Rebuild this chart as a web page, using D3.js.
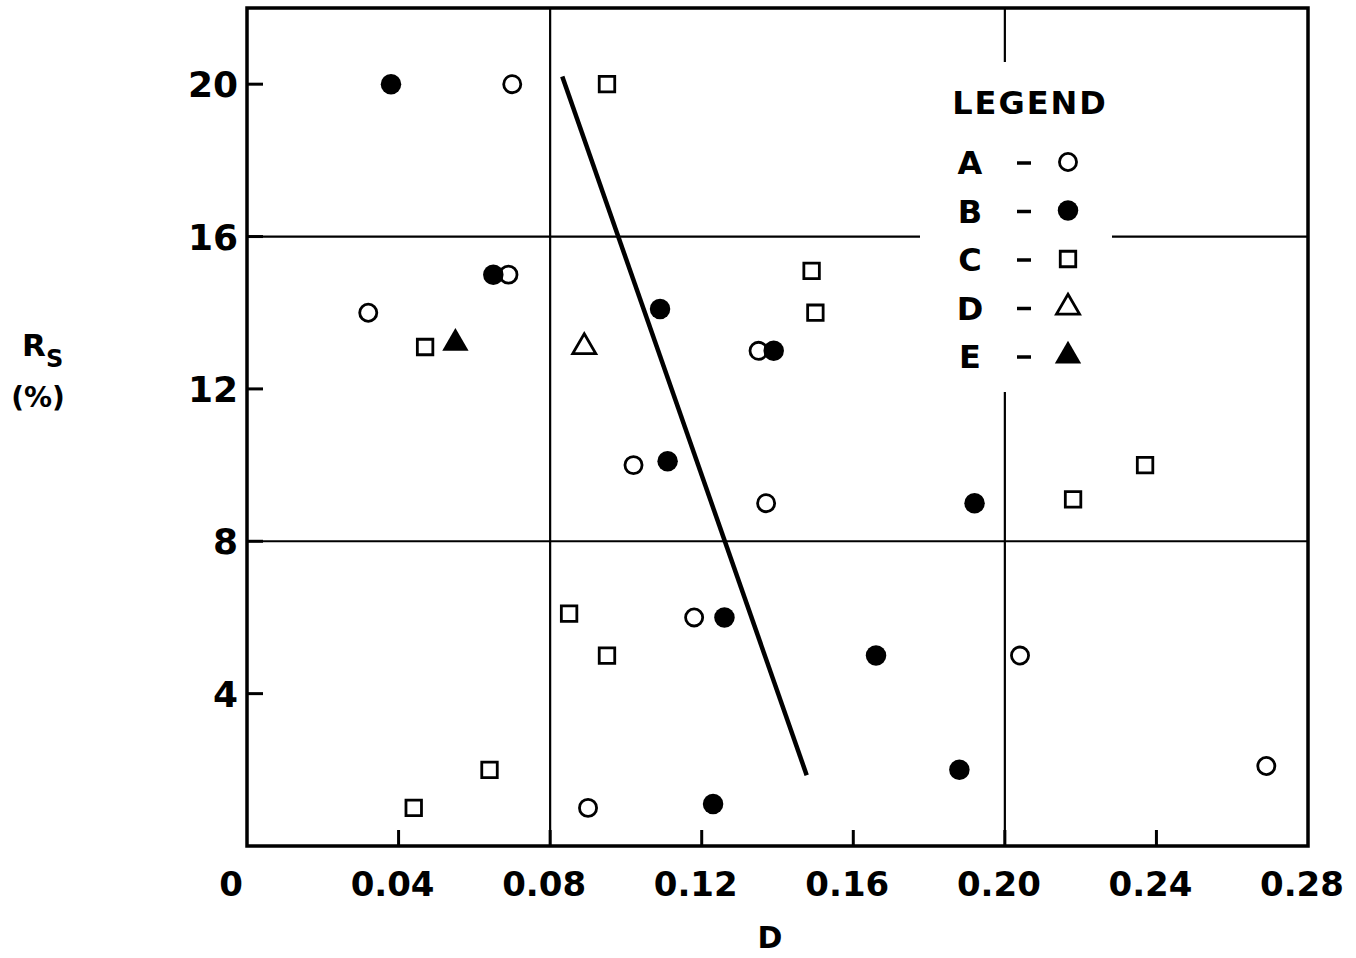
<!DOCTYPE html>
<html>
<head>
<meta charset="utf-8">
<script src="https://cdn.jsdelivr.net/npm/d3@7"></script>
<style>
body { margin: 0; background: #fff; }
text { font-family: "DejaVu Sans", sans-serif; font-weight: bold; fill: #000; }
</style>
</head>
<body>
<div id="chart"></div>
<script>
// values, one array per series
var seriesA = [[0.070, 20], [0.032, 14], [0.069, 15], [0.135, 13], [0.102, 10], [0.137, 9], [0.118, 6], [0.090, 1], [0.204, 5], [0.269, 2.1]];
var seriesB = [[0.038, 20], [0.065, 15], [0.109, 14.1], [0.139, 13], [0.111, 10.1], [0.126, 6], [0.166, 5], [0.192, 9], [0.188, 2], [0.123, 1.1]];
var seriesC = [[0.095, 20], [0.149, 15.1], [0.150, 14], [0.047, 13.1], [0.237, 10], [0.218, 9.1], [0.085, 6.1], [0.095, 5], [0.064, 2], [0.044, 1]];
var seriesD = [[0.089, 13.1]];
var seriesE = [[0.055, 13.2]];
var trendLine = [[0.0832, 20.2], [0.1477, 1.86]];

var xTicks = [0, 0.04, 0.08, 0.12, 0.16, 0.20, 0.24, 0.28];
var xTickLabels = ['0', '0.04', '0.08', '0.12', '0.16', '0.20', '0.24', '0.28'];
var yTicks = [4, 8, 12, 16, 20];
var xGrid = [0.08, 0.20];
var yGrid = [8, 16];
var legendNames = ['A', 'B', 'C', 'D', 'E'];

var W = 1356, H = 958;
var svg = d3.select('#chart').append('svg').attr('width', W).attr('height', H);

var x = d3.scaleLinear().domain([0, 0.28]).range([247, 1308]);
var y = d3.scaleLinear().domain([0, 22]).range([846, 8]);

// grid lines (broken around the legend)
var g = svg.append('g').attr('stroke', '#000').attr('stroke-width', 2.2);
xGrid.forEach(function(v) {
	if (v === 0.20) {
		g.append('line').attr('x1', x(v)).attr('x2', x(v)).attr('y1', y(22)).attr('y2', 62);
		g.append('line').attr('x1', x(v)).attr('x2', x(v)).attr('y1', 392).attr('y2', y(0));
	} else {
		g.append('line').attr('x1', x(v)).attr('x2', x(v)).attr('y1', y(22)).attr('y2', y(0));
	}
});
yGrid.forEach(function(v) {
	if (v === 16) {
		g.append('line').attr('x1', x(0)).attr('x2', 920).attr('y1', y(v)).attr('y2', y(v));
		g.append('line').attr('x1', 1112).attr('x2', x(0.28)).attr('y1', y(v)).attr('y2', y(v));
	} else {
		g.append('line').attr('x1', x(0)).attr('x2', x(0.28)).attr('y1', y(v)).attr('y2', y(v));
	}
});

// inward tick marks
xTicks.slice(1, -1).forEach(function(v) {
	g.append('line').attr('x1', x(v)).attr('x2', x(v)).attr('y1', y(0)).attr('y2', y(0) - 16).attr('stroke-width', 3);
});
yTicks.forEach(function(v) {
	g.append('line').attr('x1', x(0)).attr('x2', x(0) + 16).attr('y1', y(v)).attr('y2', y(v)).attr('stroke-width', 3);
});

// frame
svg.append('rect')
	.attr('x', x(0)).attr('y', y(22))
	.attr('width', x(0.28) - x(0)).attr('height', y(0) - y(22))
	.attr('fill', 'none').attr('stroke', '#000').attr('stroke-width', 3.5);

// tick labels
svg.append('g').selectAll('text').data(xTicks).enter().append('text')
	.attr('x', function(d, i) { return x(d) - (i === 0 ? 16 : 6); })
	.attr('y', 896)
	.attr('text-anchor', 'middle')
	.attr('font-size', 34)
	.text(function(d, i) { return xTickLabels[i]; });

svg.append('g').selectAll('text').data(yTicks).enter().append('text')
	.attr('x', 238)
	.attr('y', function(d) { return y(d) + 13; })
	.attr('text-anchor', 'end')
	.attr('font-size', 36)
	.text(function(d) { return d; });

// axis titles
svg.append('text').attr('x', 770).attr('y', 948).attr('text-anchor', 'middle').attr('font-size', 30).text('D');
var rs = svg.append('text').attr('x', 22).attr('y', 356).attr('font-size', 31);
rs.append('tspan').text('R');
rs.append('tspan').attr('dy', 11).attr('font-size', 24).text('S');
svg.append('text').attr('x', 38).attr('y', 407).attr('text-anchor', 'middle').attr('font-size', 28).text('(%)');

// trend line
svg.append('path')
	.attr('d', d3.line().x(function(d) { return x(d[0]); }).y(function(d) { return y(d[1]); })(trendLine))
	.attr('fill', 'none').attr('stroke', '#000').attr('stroke-width', 4.5);

// markers
var sym = {
	A: { type: d3.symbolCircle, size: 230, fill: '#fff', sw: 2.8 },
	B: { type: d3.symbolCircle, size: 330, fill: '#000', sw: 0 },
	C: { type: d3.symbolSquare, size: 240, fill: '#fff', sw: 2.8 },
	D: { type: d3.symbolTriangle, size: 230, fill: '#fff', sw: 2.8 },
	E: { type: d3.symbolTriangle, size: 300, fill: '#000', sw: 0 }
};
var allSeries = { A: seriesA, B: seriesB, C: seriesC, D: seriesD, E: seriesE };

legendNames.forEach(function(k) {
	var s = sym[k];
	svg.append('g').selectAll('path').data(allSeries[k]).enter().append('path')
		.attr('transform', function(d) { return 'translate(' + x(d[0]) + ',' + y(d[1]) + ')'; })
		.attr('d', d3.symbol().type(s.type).size(s.size))
		.attr('fill', s.fill)
		.attr('stroke', '#000')
		.attr('stroke-width', s.sw);
});

// legend
svg.append('text').attr('x', 1030).attr('y', 114).attr('text-anchor', 'middle')
	.attr('font-size', 32).attr('letter-spacing', 2).text('LEGEND');
legendNames.forEach(function(k, i) {
	var cy = 162 + i * 48.5;
	var s = sym[k];
	svg.append('text').attr('x', 970).attr('y', cy + 12).attr('text-anchor', 'middle').attr('font-size', 32).text(k);
	svg.append('line').attr('x1', 1017).attr('x2', 1031).attr('y1', cy + 1).attr('y2', cy + 1)
		.attr('stroke', '#000').attr('stroke-width', 3.5);
	svg.append('path').attr('transform', 'translate(1068,' + cy + ')')
		.attr('d', d3.symbol().type(s.type).size(s.size))
		.attr('fill', s.fill).attr('stroke', '#000').attr('stroke-width', s.sw);
});
</script>
</body>
</html>
